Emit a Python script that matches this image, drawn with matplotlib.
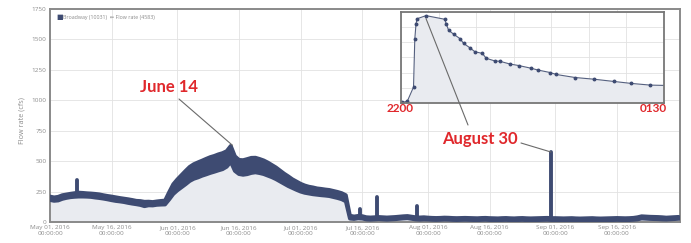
import numpy as np
import matplotlib
matplotlib.use('Agg')
import matplotlib.pyplot as plt
import matplotlib.dates as mdates

### Daily flow (cfs), May 01 -> Oct 01 2016
days = np.arange(np.datetime64('2016-05-01'), np.datetime64('2016-10-02'))

flow_may = [195, 188, 192, 205, 212, 218, 222, 225, 224, 222, 220, 216, 212, 206, 200, 194,
            188, 183, 178, 172, 166, 160, 156, 148, 152, 150, 155, 158, 160, 215, 270]
flow_jun = [305, 335, 365, 395, 415, 428, 442, 455, 468, 478, 490, 500, 518, 560, 480, 452,
            448, 455, 465, 468, 460, 450, 435, 418, 400, 378, 355, 335, 315, 298]
flow_jul = [282, 270, 262, 256, 250, 246, 242, 238, 230, 222, 212, 195, 40, 35, 40, 38,
            30, 28, 30, 32, 30, 28, 30, 32, 35, 38, 40, 35, 30, 28, 30]
flow_aug = [28, 26, 25, 26, 28, 27, 25, 24, 25, 26, 25, 24, 23, 25, 26, 24,
            23, 22, 24, 25, 23, 22, 24, 25, 23, 22, 23, 24, 25, 26, 24]
flow_sep = [24, 23, 22, 23, 24, 22, 21, 22, 23, 24, 22, 21, 22, 23, 24, 25,
            24, 23, 24, 26, 30, 38, 36, 34, 33, 32, 30, 28, 30, 32]
flow_oct = [34]

### Half-width of the noisy band around the daily flow
spread_may = [14, 14, 15, 15, 14, 14, 15, 16, 15, 14, 14, 15, 15, 14, 14, 15,
              15, 14, 14, 15, 15, 14, 16, 18, 15, 14, 14, 15, 16, 30, 40]
spread_jun = [45, 50, 55, 58, 60, 62, 62, 64, 65, 65, 66, 66, 64, 65, 60, 58,
              60, 62, 62, 60, 58, 56, 54, 50, 48, 45, 42, 40, 36, 34]
spread_jul = [32, 30, 28, 28, 26, 26, 25, 25, 25, 25, 25, 25, 12, 10, 10, 10,
              9, 9, 9, 9, 9, 9, 9, 9, 9, 9, 9, 9, 9, 9, 9]
spread_aug = [8, 8, 8, 8, 8, 8, 8, 8, 8, 8, 8, 8, 8, 8, 8, 8,
              8, 8, 8, 8, 8, 8, 8, 8, 8, 8, 8, 8, 8, 8, 8]
spread_sep = [8, 8, 8, 8, 8, 8, 8, 8, 8, 8, 8, 8, 8, 8, 8, 8,
              8, 8, 8, 8, 9, 9, 9, 9, 9, 9, 9, 8, 8, 8]
spread_oct = [8]

### Short storm spikes
spike_times = np.array(['2016-05-07T14:00', '2016-07-15T12:00', '2016-07-19T12:00',
                        '2016-07-29T06:00', '2016-08-30T22:00'], dtype='datetime64[m]')
spike_tops = [345, 110, 205, 135, 575]
spike_base = [220, 35, 30, 35, 24]

### Inset: Aug 30 22:00 -> Aug 31 01:30, minutes after 22:00
inset_min = [1, 5, 10, 11, 12, 13, 20, 35, 36, 38, 42, 47, 50, 55, 59, 65, 68, 75, 79,
             87, 94, 104, 109, 119, 124, 139, 154, 170, 184, 199, 210]
inset_flow = [4, 11, 105, 419, 524, 556, 576, 552, 524, 480, 454, 425, 393, 364, 338, 327,
              295, 277, 275, 257, 247, 229, 218, 201, 188, 168, 157, 142, 129, 118, 116]

tick_dates = ['2016-05-01', '2016-05-16', '2016-06-01', '2016-06-16', '2016-07-01',
              '2016-07-16', '2016-08-01', '2016-08-16', '2016-09-01', '2016-09-16']
tick_labels = ['May 01, 2016', 'May 16, 2016', 'Jun 01, 2016', 'Jun 16, 2016', 'Jul 01, 2016',
               'Jul 16, 2016', 'Aug 01, 2016', 'Aug 16, 2016', 'Sep 01, 2016', 'Sep 16, 2016']

navy = '#3e4b72'
fill_c = '#e9ebf0'
grey_txt = '#8c8c8c'
red = '#e0282c'

mid = np.array(flow_may + flow_jun + flow_jul + flow_aug + flow_sep + flow_oct, dtype=float)
spread = np.array(spread_may + spread_jun + spread_jul + spread_aug + spread_sep + spread_oct, dtype=float)
low = mid - spread
high = mid + spread

W, H = 691, 243
fig = plt.figure(figsize=(W / 100, H / 100), dpi=100)
ax = fig.add_axes([50 / W, 21 / H, 630 / W, 213 / H])

ax.fill_between(days, 0, mid, color=fill_c, lw=0, zorder=1)
ax.fill_between(days, low, high, color=navy, lw=0, zorder=3)
ax.plot(days, low, color=navy, lw=2.8, solid_capstyle='round', zorder=3)
ax.plot(days, high, color=navy, lw=2.8, solid_capstyle='round', zorder=3)
ax.vlines(spike_times, spike_base, spike_tops, color=navy, lw=2.8, capstyle='round', zorder=3)

ax.set_ylim(0, 1750)
ax.set_yticks(np.arange(0, 1751, 250))
ax.set_xlim(np.datetime64('2016-05-01'), np.datetime64('2016-10-01T08:00'))
ax.set_xticks(np.array(tick_dates, dtype='datetime64[D]'))
ax.set_xticklabels([t + '\n00:00:00' for t in tick_labels])
ax.tick_params(length=0, labelsize=4.6, labelcolor=grey_txt, pad=2.5)
for lab in ax.get_xticklabels() + ax.get_yticklabels():
    lab.set_family('Open Sans')
ax.grid(True, color='#e2e2e2', lw=0.6, zorder=0)
ax.set_axisbelow(True)
for sp in ax.spines.values():
    sp.set_color('#8a8a8a')
    sp.set_linewidth(1.4)

fig.text(22 / W, (H - 121) / H, 'Flow rate (cfs)', rotation=90, ha='center', va='center',
         fontsize=5.2, color=grey_txt, family='Open Sans')

### Legend
fig.text(56 / W, (H - 17) / H, '\u25a0', fontsize=5, color=navy, va='center')
fig.text(63 / W, (H - 17) / H, 'Broadway (10031)  \u21d0 Flow rate (4583)', fontsize=3.8,
         color='#8a8a8a', va='center', family=['Open Sans', 'DejaVu Sans'])

### Inset
ax_in = fig.add_axes([401 / W, (H - 103) / H, 263 / W, 91 / H])
ax_in.fill_between(inset_min, 0, inset_flow, color=fill_c, lw=0)
ax_in.plot(inset_min, inset_flow, color='#55607f', lw=0.8, marker='o', ms=1.8,
           mfc=navy, mec=navy, markevery=slice(0, -1))
ax_in.set_xlim(0, 210)
ax_in.set_ylim(0, 600)
ax_in.set_xticks(np.arange(0, 211, 30))
ax_in.set_yticks(np.arange(0, 601, 100))
ax_in.tick_params(length=0, labelbottom=False, labelleft=False)
ax_in.grid(True, color='#e2e2e2', lw=0.6)
ax_in.set_axisbelow(True)
for sp in ax_in.spines.values():
    sp.set_color('#777777')
    sp.set_linewidth(1.3)

### Annotations
lab_kw = dict(color=red, fontsize=12, fontweight='bold', family='Lato', ha='center', va='center')
fig.text(169 / W, (H - 87) / H, 'June 14', **lab_kw)
fig.text(480 / W, (H - 139) / H, 'August 30', **lab_kw)
small_kw = dict(color=red, fontsize=8.5, fontweight='bold', family='Lato', ha='center', va='center')
fig.text(400 / W, (H - 108) / H, '2200', **small_kw)
fig.text(653 / W, (H - 108) / H, '0130', **small_kw)

line_kw = dict(arrowstyle='-', color='#6a6a6a', lw=0.8, shrinkA=0, shrinkB=0)
ax.annotate('', xy=(np.datetime64('2016-06-14T10:00'), 630), xycoords='data',
            xytext=(179, H - 99), textcoords='figure pixels', arrowprops=line_kw)
ax.annotate('', xy=(spike_times[-1], spike_tops[-1]), xycoords='data',
            xytext=(521, H - 143), textcoords='figure pixels', arrowprops=line_kw)
ax_in.annotate('', xy=(inset_min[6], inset_flow[6] - 20), xycoords='data',
               xytext=(468, H - 125), textcoords='figure pixels', arrowprops=line_kw,
               annotation_clip=False)

fig.savefig('out.png', dpi=100)
